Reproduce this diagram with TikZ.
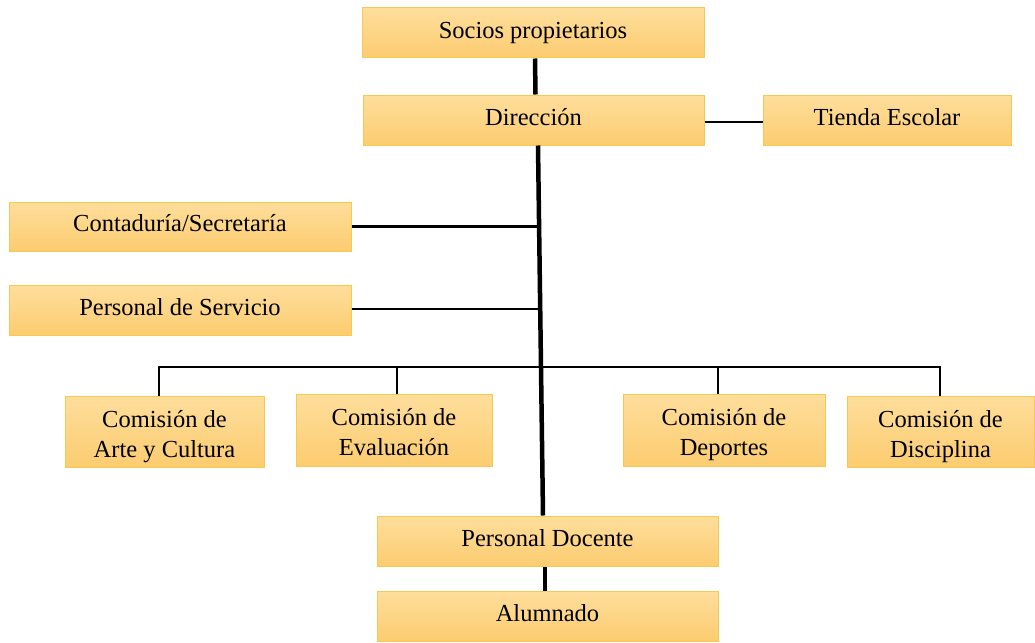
\documentclass[tikz,border=0pt]{standalone}
\usepackage{fontspec}
\setmainfont{Liberation Serif}
\definecolor{boxtop}{RGB}{254,222,156}
\definecolor{boxbot}{RGB}{252,204,112}
\definecolor{boxline}{RGB}{248,200,80}
\begin{document}
\begin{tikzpicture}[x=1pt,y=-1pt,
  box/.style={draw=boxline,line width=1pt,top color=boxtop,bottom color=boxbot,
    inner sep=0pt,align=center,font=\fontsize{24.5}{30}\selectfont,
    text height=16pt,text depth=6pt},
  twoline/.style={text height=53pt,text depth=2pt},
  trunk/.style={line width=4.5pt},
  branch/.style={line width=2.8pt}]
\useasboundingbox[fill=white] (0,0) rectangle (1035,642);
\node[box,minimum width=342pt,minimum height=50pt] (soc) at (533,33) {Socios propietarios};
\node[box,minimum width=341pt,minimum height=50pt] (dir) at (533.5,120) {Dirección};
\node[box,minimum width=248pt,minimum height=50pt] (tie) at (887,120) {Tienda Escolar};
\node[box,minimum width=342pt,minimum height=49pt] (con) at (180,226.5) {Contaduría/Secretaría};
\node[box,minimum width=342pt,minimum height=50pt] (ser) at (180,310) {Personal de Servicio};
\node[box,twoline,minimum width=199pt,minimum height=71pt] (art) at (164.5,431.5) {Comisión de\\Arte y Cultura};
\node[box,twoline,minimum width=196pt,minimum height=72pt] (eva) at (394,430) {Comisión de\\Evaluación};
\node[box,twoline,minimum width=202pt,minimum height=72pt] (dep) at (724,430) {Comisión de\\Deportes};
\node[box,twoline,minimum width=187pt,minimum height=71pt] (dis) at (940.5,431.5) {Comisión de\\Disciplina};
\node[box,minimum width=341pt,minimum height=50pt] (doc) at (547.5,541) {Personal Docente};
\node[box,minimum width=341pt,minimum height=50pt] (alu) at (547.5,616) {Alumnado};
% trunk
\draw[trunk] ([xshift=2pt]soc.south) -- ([xshift=2pt]dir.north);
\draw[trunk] ([xshift=4.5pt]dir.south) -- ([xshift=-4.5pt]doc.north);
\draw[trunk] ([xshift=-2.5pt]doc.south) -- ([xshift=-2.5pt]alu.north);
% branches
\coordinate (jc) at (539.5,226.5);
\coordinate (js) at (540.5,309);
\coordinate (bl) at (159,367);
\coordinate (br) at (940,367);
\coordinate (be) at (397,367);
\coordinate (bd) at (718,367);
\draw[branch] ([yshift=-2pt]dir.east) -- ([yshift=-2pt]tie.west);
\draw[branch] (con.east) -- (jc);
\draw[branch] (ser.east |- js) -- (js);
\draw[branch] (bl |- art.north) -- (bl) -- (br) -- (br |- dis.north);
\draw[branch] (be) -- (be |- eva.north);
\draw[branch] (bd) -- (bd |- dep.north);
\end{tikzpicture}
\end{document}
